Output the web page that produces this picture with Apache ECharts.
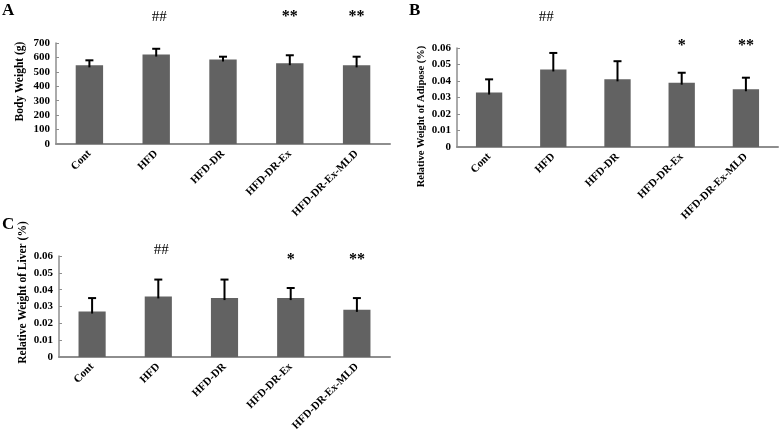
<!DOCTYPE html>
<html>
<head>
<meta charset="utf-8">
<script src="https://cdn.jsdelivr.net/npm/echarts@6/dist/echarts.min.js"></script>
<style>html,body{margin:0;padding:0;background:#fff}#c{width:779px;height:429px}</style>
</head>
<body>
<div id="c"></div>
<script>
// ---- data ----
const categories = ['Cont', 'HFD', 'HFD-DR', 'HFD-DR-Ex', 'HFD-DR-Ex-MLD'];
const bodyWeight = [545, 620, 585, 560, 545];
const bodyWeightSD = [35, 40, 20, 55, 60];
const adipose = [0.033, 0.047, 0.041, 0.039, 0.035];
const adiposeSD = [0.008, 0.010, 0.011, 0.006, 0.007];
const liver = [0.027, 0.036, 0.035, 0.035, 0.028];
const liverSD = [0.008, 0.010, 0.011, 0.006, 0.007];
const sigA = ['', '##', '', '**', '**'];
const sigB = ['', '##', '', '*', '**'];
const sigC = ['', '##', '', '*', '**'];
const yTicksA = {min: 0, max: 700, interval: 100};
const yTicksB = {min: 0, max: 0.06, interval: 0.01};
const yTicksC = {min: 0, max: 0.06, interval: 0.01};

// ---- layout / style ----
const grids = [
  {left: 56, top: 43, right: 389, bottom: 285},
  {left: 457, top: 48, right: 1, bottom: 282},
  {left: 59, top: 256, right: 389, bottom: 72}
];
const FONT = '"Liberation Serif", "Times New Roman", serif';
const AX = '#8e8e8e';
// per-panel annotation offsets above grid top (px): [hash, star]
const sigOffsets = [[26, 26], [31, 2], [6, -4]];
const hashDx = [3, -7, 3];
const namePads = [[0, 0, 0, 24], [0, 38, 0, 0], [0, 0, 0, 28]];
const nameSizes = [11.5, 10.5, 11.5];

const chart = echarts.init(document.getElementById('c'));

function errRender(params, api) {
  const i = api.value(0), m = api.value(1), sd = api.value(2);
  const top = api.coord([i, m + sd]);
  const base = api.coord([i, m]);
  const cap = 4;
  return {type: 'group', children: [
    {type: 'line', shape: {x1: top[0], y1: top[1], x2: base[0], y2: base[1] + 2},
     style: {stroke: '#000', lineWidth: 2}},
    {type: 'line', shape: {x1: top[0] - cap, y1: top[1], x2: top[0] + cap, y2: top[1]},
     style: {stroke: '#000', lineWidth: 2}}
  ]};
}
function sigRender(panel, sig) {
  return function (params, api) {
    const i = api.value(0);
    const txt = sig[i];
    if (!txt) return null;
    const x = api.coord([i, 0])[0];
    const isHash = txt.indexOf('#') >= 0;
    const y = grids[panel].top - sigOffsets[panel][isHash ? 0 : 1];
    return {type: 'text', x: x + (isHash ? hashDx[panel] : 0), y: y,
      style: {text: txt, align: 'center', verticalAlign: 'middle',
        font: (isHash ? 'normal 15px ' : 'bold 16px ') + FONT, fill: '#000'}};
  };
}

const yNames = ['Body Weight (g)', 'Relative Weight of Adipose (%)', 'Relative Weight of Liver (%)'];
const yTicks = [yTicksA, yTicksB, yTicksC];
const means = [bodyWeight, adipose, liver];
const sds = [bodyWeightSD, adiposeSD, liverSD];
const sigs = [sigA, sigB, sigC];

const xAxis = [], yAxis = [], series = [];
for (let p = 0; p < 3; p++) {
  xAxis.push({
    type: 'category', gridIndex: p, data: categories,
    axisLine: {lineStyle: {color: AX, width: 2}},
    axisTick: {show: false},
    axisLabel: {interval: 0, rotate: 45, margin: 8, color: '#000',
      fontFamily: FONT, fontWeight: 'bold', fontSize: 11}
  });
  yAxis.push(Object.assign({
    type: 'value', gridIndex: p,
    name: yNames[p], nameLocation: 'middle', nameRotate: 90, nameGap: 30,
    nameTextStyle: {color: '#000', fontFamily: FONT, fontWeight: 'bold', fontSize: nameSizes[p], padding: namePads[p]},
    axisLine: {show: true, lineStyle: {color: AX, width: 1.5}},
    axisTick: {show: true, inside: true, length: 3, lineStyle: {color: AX}},
    splitLine: {show: false},
    axisLabel: {margin: 6, color: '#000', fontFamily: FONT, fontWeight: 'bold', fontSize: 11}
  }, yTicks[p]));
  series.push({
    type: 'bar', xAxisIndex: p, yAxisIndex: p, data: means[p],
    barCategoryGap: '59%', itemStyle: {color: '#626262'}, silent: true
  });
  series.push({
    type: 'custom', xAxisIndex: p, yAxisIndex: p, renderItem: errRender,
    data: means[p].map((m, i) => [i, m, sds[p][i]]), z: 5, silent: true
  });
  series.push({
    type: 'custom', xAxisIndex: p, yAxisIndex: p, renderItem: sigRender(p, sigs[p]),
    data: sigs[p].map((s, i) => [i]), clip: false, z: 6, silent: true
  });
}

chart.setOption({
  animation: false,
  title: [
    {text: 'A', left: 0, top: 0},
    {text: 'B', left: 407, top: 0},
    {text: 'C', left: 0, top: 214}
  ].map(t => Object.assign(t, {padding: 2, textStyle: {fontFamily: FONT, fontWeight: 'bold', fontSize: 17, color: '#000'}})),
  grid: grids.map(g => Object.assign({outerBoundsMode: 'none', containLabel: false}, g)),
  xAxis: xAxis,
  yAxis: yAxis,
  series: series
});
</script>
</body>
</html>
